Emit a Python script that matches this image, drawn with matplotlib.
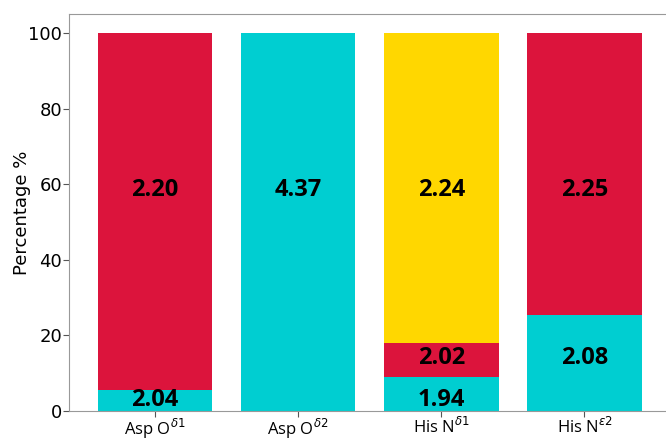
import matplotlib.pyplot as plt
import numpy as np

categories = ['Asp O$^{\\delta1}$', 'Asp O$^{\\delta2}$', 'His N$^{\\delta1}$', 'His N$^{\\epsilon2}$']
cyan_vals = [5.6, 100.0, 9.0, 25.4]
red_vals = [94.4, 0.0, 9.0, 74.6]
gold_vals = [0.0, 0.0, 82.0, 0.0]

# bond length labels: (bar index, y, text)
labels = [(0, 2.9, '2.04'), (0, 58.5, '2.20'),
          (1, 58.5, '4.37'),
          (2, 2.9, '1.94'), (2, 14.0, '2.02'), (2, 58.5, '2.24'),
          (3, 14.0, '2.08'), (3, 58.5, '2.25')]

fig = plt.figure(figsize=(6.66, 4.4), dpi=100)
ax = fig.add_axes([0.1036, 0.066, 0.903, 0.902])

x = np.arange(len(categories))
ax.bar(x, cyan_vals, 0.8, color='#00CED1')
ax.bar(x, red_vals, 0.8, bottom=cyan_vals, color='#DC143C')
bot2 = np.array(cyan_vals) + np.array(red_vals)
ax.bar(x, gold_vals, 0.8, bottom=bot2, color='#FFD700')

for i, y, t in labels:
    ax.text(x[i], y, t, ha='center', va='center', fontsize=17,
            fontweight='bold', family='Open Sans', color='black')

ax.set_xlim(-0.6, 3.6)
ax.set_ylim(0, 105)
ax.set_xticks(x)
ax.set_xticklabels(categories, fontsize=12, family='Open Sans')
ax.set_yticks([0, 20, 40, 60, 80, 100])
ax.tick_params(axis='y', labelsize=13, pad=1, length=4)
ax.tick_params(axis='x', pad=0.5, length=4)
ax.set_ylabel('Percentage %', fontsize=13, labelpad=-2)
for s in ax.spines.values():
    s.set_color('#999999')
ax.tick_params(colors='#555555', labelcolor='black')

fig.savefig('out.png', dpi=100)
